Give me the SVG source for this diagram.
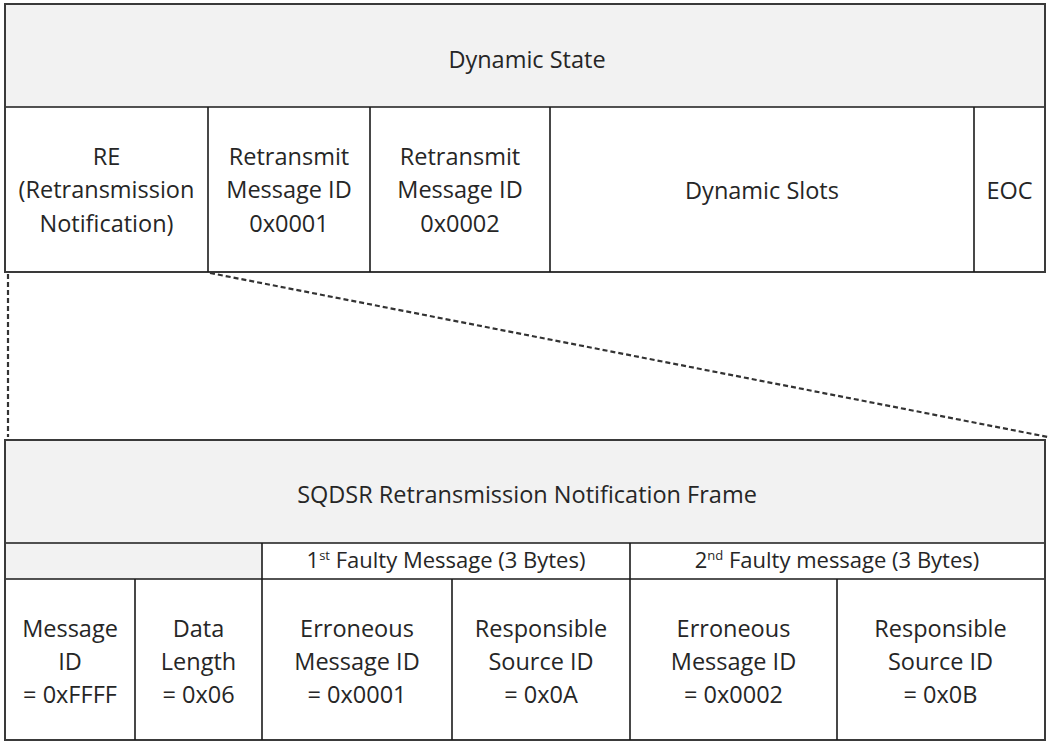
<svg xmlns="http://www.w3.org/2000/svg" width="1048" height="742" viewBox="0 0 1048 742">
  <style>
    .hdr { fill: #f2f2f2; }
    .cell { fill: #ffffff; }
    .frame { fill: none; stroke: #3a3a3a; stroke-width: 2; }
    .div { stroke: #1a1a1a; stroke-width: 1.6; fill: none; }
    .lbl { font-family: "Open Sans", "Liberation Sans", sans-serif; font-size: 23.5px; fill: #262626; text-anchor: middle; }
    .sub { font-family: "Open Sans", "Liberation Sans", sans-serif; font-size: 22px; fill: #262626; text-anchor: middle; }
    .sup { font-size: 13px; }
    .zoom { stroke: #333333; stroke-width: 2.2; fill: none; stroke-dasharray: 5 3; }
  </style>

  <rect width="1048" height="742" fill="#ffffff"/>

  <!-- Upper frame: dynamic state layout -->
  <g id="dynamic-state">
    <rect class="hdr" x="5" y="4" width="1040" height="103"/>
    <rect class="cell" x="5" y="107" width="1040" height="165"/>
    <line class="div" x1="5" y1="107" x2="1045" y2="107"/>
    <rect class="frame" x="5" y="4" width="1040" height="268"/>
    <text class="lbl" x="527" y="68">Dynamic State</text>
  </g>

  <g id="re-slot">
    <text class="lbl" x="106.5" y="165">RE</text>
    <text class="lbl" x="106.5" y="198">(Retransmission</text>
    <text class="lbl" x="106.5" y="232">Notification)</text>
  </g>

  <g id="retransmit-0001">
    <line class="div" x1="208" y1="107" x2="208" y2="272"/>
    <text class="lbl" x="289" y="165">Retransmit</text>
    <text class="lbl" x="289" y="198">Message ID</text>
    <text class="lbl" x="289" y="232">0x0001</text>
  </g>

  <g id="retransmit-0002">
    <line class="div" x1="370" y1="107" x2="370" y2="272"/>
    <text class="lbl" x="460" y="165">Retransmit</text>
    <text class="lbl" x="460" y="198">Message ID</text>
    <text class="lbl" x="460" y="232">0x0002</text>
  </g>

  <g id="dynamic-slots">
    <line class="div" x1="550" y1="107" x2="550" y2="272"/>
    <text class="lbl" x="762" y="199">Dynamic Slots</text>
  </g>

  <g id="eoc">
    <line class="div" x1="974" y1="107" x2="974" y2="272"/>
    <text class="lbl" x="1009.5" y="199">EOC</text>
  </g>

  <!-- Expansion guides from the RE slot to the notification frame -->
  <g id="connectors">
    <line class="zoom" x1="8" y1="274" x2="8" y2="437"/>
    <line class="zoom" x1="210" y1="273" x2="1048" y2="437"/>
  </g>

  <!-- Lower frame: retransmission notification -->
  <g id="notification-frame">
    <rect class="hdr" x="5" y="440" width="1040" height="103"/>
    <rect class="hdr" x="5" y="543" width="257" height="36"/>
    <rect class="cell" x="262" y="543" width="783" height="36"/>
    <rect class="cell" x="5" y="579" width="1040" height="161"/>
    <line class="div" x1="5" y1="543" x2="1045" y2="543"/>
    <line class="div" x1="5" y1="579" x2="1045" y2="579"/>
    <rect class="frame" x="5" y="440" width="1040" height="300"/>
    <text class="lbl" x="527" y="503">SQDSR Retransmission Notification Frame</text>
  </g>

  <g id="faulty-1">
    <line class="div" x1="262" y1="543" x2="262" y2="740"/>
    <text class="sub" x="446" y="568">1<tspan class="sup" dy="-8">st</tspan><tspan dy="8"> Faulty Message (3 Bytes)</tspan></text>
  </g>

  <g id="faulty-2">
    <line class="div" x1="630" y1="543" x2="630" y2="740"/>
    <text class="sub" x="837" y="568">2<tspan class="sup" dy="-8">nd</tspan><tspan dy="8"> Faulty message (3 Bytes)</tspan></text>
  </g>

  <g id="message-id">
    <text class="lbl" x="70" y="637">Message</text>
    <text class="lbl" x="70" y="670">ID</text>
    <text class="lbl" x="70" y="703">= 0xFFFF</text>
  </g>

  <g id="data-length">
    <line class="div" x1="135" y1="579" x2="135" y2="740"/>
    <text class="lbl" x="198.5" y="637">Data</text>
    <text class="lbl" x="198.5" y="670">Length</text>
    <text class="lbl" x="198.5" y="703">= 0x06</text>
  </g>

  <g id="erroneous-1">
    <text class="lbl" x="357" y="637">Erroneous</text>
    <text class="lbl" x="357" y="670">Message ID</text>
    <text class="lbl" x="357" y="703">= 0x0001</text>
  </g>

  <g id="source-1">
    <line class="div" x1="452" y1="579" x2="452" y2="740"/>
    <text class="lbl" x="541" y="637">Responsible</text>
    <text class="lbl" x="541" y="670">Source ID</text>
    <text class="lbl" x="541" y="703">= 0x0A</text>
  </g>

  <g id="erroneous-2">
    <text class="lbl" x="733.5" y="637">Erroneous</text>
    <text class="lbl" x="733.5" y="670">Message ID</text>
    <text class="lbl" x="733.5" y="703">= 0x0002</text>
  </g>

  <g id="source-2">
    <line class="div" x1="837" y1="579" x2="837" y2="740"/>
    <text class="lbl" x="940.5" y="637">Responsible</text>
    <text class="lbl" x="940.5" y="670">Source ID</text>
    <text class="lbl" x="940.5" y="703">= 0x0B</text>
  </g>
</svg>
